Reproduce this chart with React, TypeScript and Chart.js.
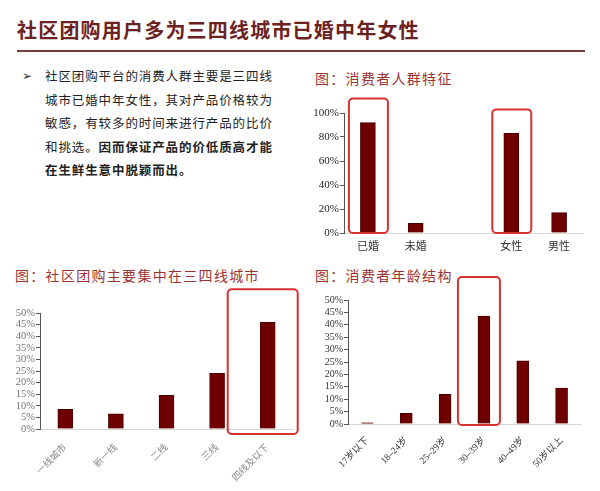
import React, { useEffect, useRef } from "react";
import { Chart, registerables } from "chart.js";
Chart.register(...registerables);

// ---- data ----
const profileLabels = ["已婚", "未婚", "", "女性", "男性"];
const profileValues: (number | null)[] = [92, 8, null, 83, 17];
const cityLabels = ["一线城市", "新一线", "二线", "三线", "四线及以下"];
const cityValues = [8.5, 6.5, 14.5, 24, 46];
const ageLabels = ["17岁以下", "18–24岁", "25–29岁", "30–39岁", "40–49岁", "50岁以上"];
const ageValues = [0.5, 4.3, 12, 43.5, 25.5, 14.5];
const profileHighlight = [0, 3];
const cityHighlight = [4];
const ageHighlight = [3];

const BAR = "#6e0000";
const BAR_BORDER = "#4a0000";
const BOX = "#d8302f";
const SERIF = "'Liberation Serif', 'Noto Sans CJK SC', serif";

const highlightPlugin = {
  id: "highlight",
  afterDatasetsDraw(chart: any, _args: any, opts: any) {
    const boxes = opts.boxes || [];
    const ctx = chart.ctx;
    const xs = chart.scales.x;
    const ys = chart.scales.y;
    boxes.forEach((b: any) => {
      const cx = xs.getPixelForValue(b.index);
      const v = chart.data.datasets[0].data[b.index];
      const top = ys.getPixelForValue(v) - b.above;
      const bottom = ys.getPixelForValue(0) + b.below;
      ctx.save();
      ctx.strokeStyle = BOX;
      ctx.lineWidth = 2;
      ctx.beginPath();
      ctx.roundRect(cx - b.left, top, b.left + b.right, bottom - top, 4);
      ctx.stroke();
      ctx.restore();
    });
  },
};

type Cfg = {
  labels: string[];
  values: (number | null)[];
  max: number;
  step: number;
  barThickness: number;
  yWidth: number;
  xHeight: number;
  padTop: number;
  padRight: number;
  yFont: number;
  yColor: string;
  xFont: number;
  xColor: string;
  xPad: number;
  rotate: number;
  boxes: any[];
};

function BarChart({ cfg, w, h }: { cfg: Cfg; w: number; h: number }) {
  const ref = useRef<HTMLCanvasElement>(null);
  useEffect(() => {
    const chart = new Chart(ref.current!, {
      type: "bar",
      data: {
        labels: cfg.labels,
        datasets: [
          {
            data: cfg.values as any,
            backgroundColor: BAR,
            borderColor: BAR_BORDER,
            borderWidth: 1,
            barThickness: cfg.barThickness,
          },
        ],
      },
      options: {
        responsive: false,
        animation: false,
        layout: { padding: { top: cfg.padTop, right: cfg.padRight, left: 0, bottom: 0 } },
        plugins: {
          legend: { display: false },
          tooltip: { enabled: false },
          highlight: { boxes: cfg.boxes },
        } as any,
        scales: {
          x: {
            afterFit: (s: any) => {
              s.height = cfg.xHeight;
            },
            grid: { display: true, drawOnChartArea: false, drawTicks: false },
            border: { display: true, color: "#d6d6d6", width: 1 },
            ticks: {
              autoSkip: false,
              maxRotation: cfg.rotate,
              minRotation: cfg.rotate,
              padding: cfg.xPad,
              font: { family: SERIF, size: cfg.xFont },
              color: cfg.xColor,
            },
          },
          y: {
            min: 0,
            max: cfg.max,
            afterFit: (s: any) => {
              s.width = cfg.yWidth;
            },
            grid: { display: true, drawOnChartArea: false, drawTicks: true, tickLength: 4, color: "#555" },
            border: { display: true, color: "#555", width: 1 },
            ticks: {
              stepSize: cfg.step,
              autoSkip: false,
              padding: 1,
              font: { family: SERIF, size: cfg.yFont },
              color: cfg.yColor,
              callback: (v: any) => v + "%",
            },
          },
        },
      },
      plugins: [highlightPlugin],
    });
    return () => chart.destroy();
  }, []);
  return <canvas ref={ref} width={w} height={h} style={{ width: w, height: h, display: "block" }} />;
}

const profileCfg: Cfg = {
  labels: profileLabels,
  values: profileValues,
  max: 100,
  step: 20,
  barThickness: 15,
  yWidth: 44,
  xHeight: 27,
  padTop: 23,
  padRight: 17,
  yFont: 11,
  yColor: "#222",
  xFont: 11,
  xColor: "#333",
  xPad: 8,
  rotate: 0,
  boxes: profileHighlight.map((i) => ({ index: i, left: 19, right: 20, above: 24, below: 0 })),
};

const cityCfg: Cfg = {
  labels: cityLabels,
  values: cityValues,
  max: 50,
  step: 5,
  barThickness: 15,
  yWidth: 40,
  xHeight: 62,
  padTop: 33,
  padRight: 7,
  yFont: 10.5,
  yColor: "#777",
  xFont: 9.5,
  xColor: "#888",
  xPad: 13,
  rotate: 45,
  boxes: cityHighlight.map((i) => ({ index: i, left: 40, right: 30, above: 33, below: 5 })),
};

const ageCfg: Cfg = {
  labels: ageLabels,
  values: ageValues,
  max: 50,
  step: 5,
  barThickness: 12,
  yWidth: 48,
  xHeight: 67,
  padTop: 40,
  padRight: 19,
  yFont: 10,
  yColor: "#333",
  xFont: 9.5,
  xColor: "#333",
  xPad: 11,
  rotate: 45,
  boxes: ageHighlight.map((i) => ({ index: i, left: 26, right: 16, above: 39, below: 1 })),
};

const abs = (left: number, top: number): React.CSSProperties => ({ position: "absolute", left, top });

const sectionTitle: React.CSSProperties = {
  fontSize: 14,
  letterSpacing: 1.3,
  color: "#9a3434",
  lineHeight: "20px",
  whiteSpace: "nowrap",
};

export default function App() {
  const bodyLines = [
    "社区团购平台的消费人群主要是三四线",
    "城市已婚中年女性，其对产品价格较为",
    "敏感，有较多的时间来进行产品的比价",
  ];
  return (
    <div
      style={{
        position: "fixed",
        left: 0,
        top: 0,
        width: 600,
        height: 491,
        background: "#fff",
        fontFamily: "'Noto Sans CJK SC', sans-serif",
        overflow: "hidden",
      }}
    >
      <div
        style={{
          ...abs(17, 16),
          fontSize: 20,
          fontWeight: 700,
          letterSpacing: 1.2,
          color: "#6d2222",
          lineHeight: "28px",
          whiteSpace: "nowrap",
        }}
      >
        社区团购用户多为三四线城市已婚中年女性
      </div>
      <div style={{ ...abs(17, 50), width: 568, height: 2, background: "#7a3b3b" }} />

      <div style={{ ...abs(22, 65), fontSize: 12, lineHeight: "22px", fontFamily: "'DejaVu Sans', sans-serif", color: "#333" }}>➢</div>
      <div style={{ ...abs(45, 64), fontSize: 12.5, letterSpacing: 0.9, lineHeight: "23.5px", color: "#222", whiteSpace: "nowrap" }}>
        {bodyLines.map((l, i) => (
          <div key={i}>{l}</div>
        ))}
        <div>
          和挑选。<span style={{ fontWeight: 700 }}>因而保证产品的价低质高才能</span>
        </div>
        <div style={{ fontWeight: 700 }}>在生鲜生意中脱颖而出。</div>
      </div>

      <div style={{ ...abs(315, 68), ...sectionTitle }}>图：消费者人群特征</div>
      <div style={{ ...abs(15, 265), ...sectionTitle }}>图：社区团购主要集中在三四线城市</div>
      <div style={{ ...abs(315, 265), ...sectionTitle }}>图：消费者年龄结构</div>

      <div style={abs(300, 90)}>
        <BarChart cfg={profileCfg} w={300} h={170} />
      </div>
      <div style={abs(0, 280)}>
        <BarChart cfg={cityCfg} w={300} h={211} />
      </div>
      <div style={abs(300, 260)}>
        <BarChart cfg={ageCfg} w={300} h={231} />
      </div>
    </div>
  );
}
